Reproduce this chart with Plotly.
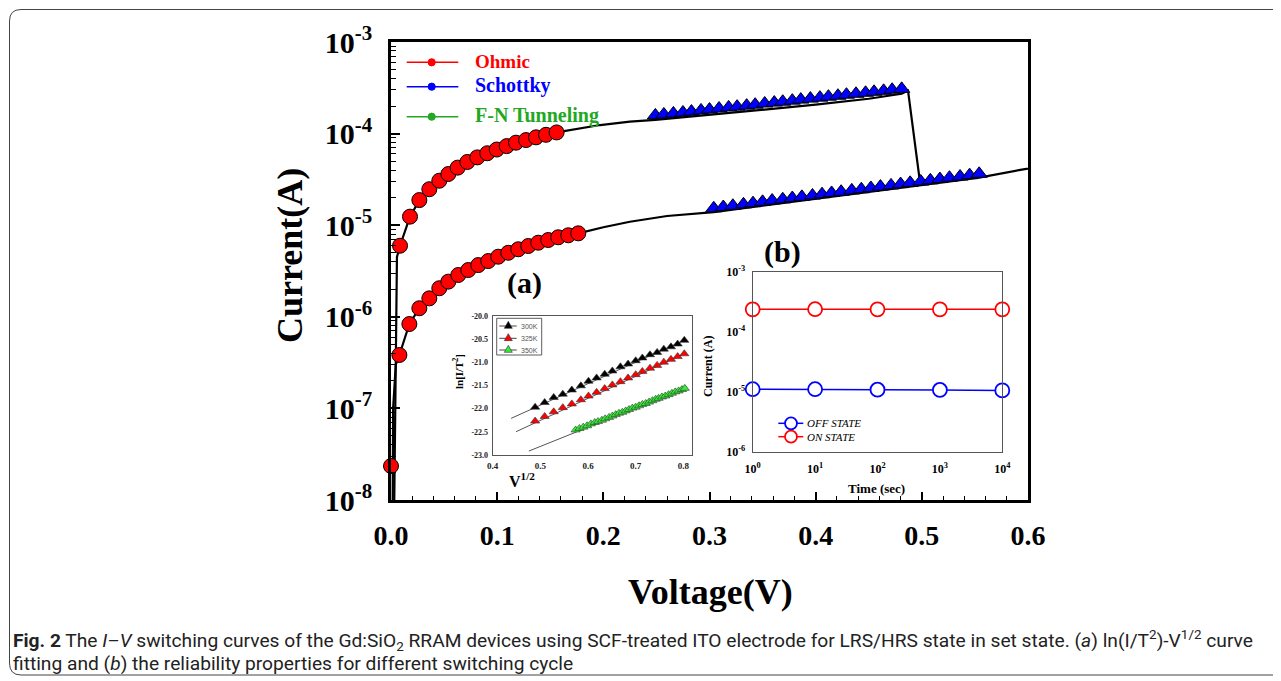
import plotly.graph_objects as go

# The page body adds an 8 px offset, so the figure is 8 px smaller and shifted.
OFF = 8
W, H = 1281 - OFF, 681 - OFF


def px(x):
    return (x - OFF) / W


def py(y):
    return 1 - (y - OFF) / H


# ---------------- main I-V data ----------------
# LRS ohmic fit points (red circles)
lrs_ohmic_v = [0.0085, 0.0179, 0.0267, 0.0361, 0.0455, 0.054, 0.0628, 0.0719, 0.0813,
               0.0907, 0.0996, 0.109, 0.1177, 0.1272, 0.1366, 0.146, 0.156]
lrs_ohmic_i = [5.97e-6, 1.24e-5, 1.88e-5, 2.47e-5, 3.06e-5, 3.62e-5, 4.25e-5, 4.9e-5, 5.5e-5,
               6.1e-5, 6.7e-5, 7.3e-5, 7.96e-5, 8.5e-5, 9.1e-5, 9.7e-5, 1.03e-4]
# HRS ohmic fit points (red circles)
hrs_ohmic_v = [0.0, 0.0079, 0.0173, 0.0267, 0.0361, 0.0455, 0.054, 0.0634, 0.0728, 0.0822,
               0.0916, 0.101, 0.1105, 0.1199, 0.1293, 0.1387, 0.1481, 0.1575, 0.167, 0.1764]
hrs_ohmic_i = [2.35e-8, 3.83e-7, 8.34e-7, 1.24e-6, 1.59e-6, 2.05e-6, 2.42e-6, 2.86e-6, 3.24e-6,
               3.67e-6, 4.06e-6, 4.53e-6, 5.0e-6, 5.46e-6, 5.93e-6, 6.44e-6, 6.89e-6, 7.38e-6,
               7.76e-6, 8.15e-6]
# LRS Schottky fit points (blue triangles)
lrs_schottky_v = [0.249, 0.257, 0.266, 0.275, 0.283, 0.292, 0.300, 0.309, 0.318, 0.326,
                  0.335, 0.343, 0.352, 0.361, 0.369, 0.378, 0.386, 0.395, 0.404, 0.412,
                  0.421, 0.429, 0.438, 0.447, 0.455, 0.464, 0.472, 0.481]
lrs_schottky_i = [1.58e-4, 1.62e-4, 1.66e-4, 1.70e-4, 1.74e-4, 1.79e-4, 1.83e-4, 1.88e-4,
                  1.93e-4, 1.97e-4, 2.02e-4, 2.07e-4, 2.13e-4, 2.18e-4, 2.23e-4, 2.29e-4,
                  2.35e-4, 2.41e-4, 2.47e-4, 2.53e-4, 2.59e-4, 2.66e-4, 2.72e-4, 2.79e-4,
                  2.86e-4, 2.93e-4, 3.01e-4, 3.08e-4]
# HRS Schottky fit points (blue triangles)
hrs_schottky_v = [0.304, 0.313, 0.322, 0.332, 0.341, 0.350, 0.359, 0.369, 0.378, 0.387,
                  0.397, 0.406, 0.415, 0.424, 0.434, 0.443, 0.452, 0.461, 0.471, 0.480,
                  0.489, 0.499, 0.508, 0.517, 0.526, 0.536, 0.545, 0.554]
hrs_schottky_i = [1.53e-5, 1.58e-5, 1.63e-5, 1.69e-5, 1.74e-5, 1.80e-5, 1.86e-5, 1.92e-5,
                  1.98e-5, 2.04e-5, 2.11e-5, 2.18e-5, 2.25e-5, 2.32e-5, 2.40e-5, 2.47e-5,
                  2.55e-5, 2.64e-5, 2.72e-5, 2.81e-5, 2.90e-5, 3.00e-5, 3.09e-5, 3.19e-5,
                  3.30e-5, 3.40e-5, 3.52e-5, 3.64e-5]
# measured sweep curves (black lines)
lrs_curve_v = [0.0028, 0.0038, 0.0048, 0.0056, 0.0085, 0.0179, 0.0267, 0.0361, 0.0455,
               0.054, 0.0628, 0.0719, 0.0813, 0.0907, 0.0996, 0.109, 0.1177, 0.1272, 0.1366,
               0.146, 0.156, 0.197, 0.225, 0.249, 0.30, 0.35, 0.40, 0.45, 0.481, 0.487, 0.498]
lrs_curve_i = [5e-9, 1e-7, 1e-6, 4.5e-6, 5.97e-6, 1.24e-5, 1.88e-5, 2.47e-5, 3.06e-5,
               3.62e-5, 4.25e-5, 4.9e-5, 5.5e-5, 6.1e-5, 6.7e-5, 7.3e-5, 7.96e-5, 8.5e-5,
               9.1e-5, 9.7e-5, 1.03e-4, 1.24e-4, 1.35e-4, 1.41e-4, 1.6e-4, 1.82e-4, 2.07e-4,
               2.4e-4, 2.72e-4, 2.95e-4, 3.1e-5]
hrs_curve_v = [0.0015, 0.002, 0.0045, 0.0079, 0.0173, 0.0267, 0.0361, 0.0455, 0.054, 0.0634,
               0.0728, 0.0822, 0.0916, 0.101, 0.1105, 0.1199, 0.1293, 0.1387, 0.1481, 0.1575,
               0.167, 0.1764, 0.20, 0.225, 0.26, 0.304, 0.35, 0.40, 0.45, 0.50, 0.554, 0.5956,
               0.62]
hrs_curve_i = [5e-9, 1e-7, 3e-7, 3.83e-7, 8.34e-7, 1.24e-6, 1.59e-6, 2.05e-6, 2.42e-6,
               2.86e-6, 3.24e-6, 3.67e-6, 4.06e-6, 4.53e-6, 5.0e-6, 5.46e-6, 5.93e-6, 6.44e-6,
               6.89e-6, 7.38e-6, 7.76e-6, 8.15e-6, 9.5e-6, 1.09e-5, 1.26e-5, 1.39e-5, 1.63e-5,
               1.94e-5, 2.3e-5, 2.74e-5, 3.3e-5, 4.07e-5, 4.5e-5]

main_xticks = [0.0, 0.1, 0.2, 0.3, 0.4, 0.5, 0.6]
main_xticktext = ["0.0", "0.1", "0.2", "0.3", "0.4", "0.5", "0.6"]
main_yticks = [1e-8, 1e-7, 1e-6, 1e-5, 1e-4, 1e-3]
main_yticktext = ["10<sup>-8</sup>", "10<sup>-7</sup>", "10<sup>-6</sup>", "10<sup>-5</sup>",
                  "10<sup>-4</sup>", "10<sup>-3</sup>"]

# ---------------- inset (a): ln(I/T^2) vs V^1/2 ----------------
a_x = [0.489, 0.509, 0.528, 0.547, 0.566, 0.585, 0.601, 0.618, 0.635, 0.651,
       0.668, 0.684, 0.700, 0.714, 0.730, 0.745, 0.759, 0.774, 0.788, 0.802]
a_300k = [-21.97, -21.87, -21.76, -21.69, -21.60, -21.51, -21.41, -21.34, -21.26, -21.19,
          -21.10, -21.04, -20.97, -20.91, -20.84, -20.79, -20.72, -20.67, -20.61, -20.53]
a_325k = [-22.27, -22.17, -22.07, -21.98, -21.90, -21.81, -21.73, -21.65, -21.57, -21.49,
          -21.42, -21.34, -21.27, -21.20, -21.13, -21.07, -21.00, -20.94, -20.88, -20.82]
a_350k_x = [0.574, 0.582, 0.590, 0.598, 0.606, 0.614, 0.621, 0.629, 0.636, 0.644, 0.651,
            0.658, 0.665, 0.672, 0.679, 0.686, 0.693, 0.700, 0.707, 0.714, 0.721, 0.728,
            0.735, 0.742, 0.748, 0.755, 0.762, 0.769, 0.776, 0.783, 0.790, 0.797, 0.803]
a_350k = [-22.46, -22.43, -22.40, -22.37, -22.33, -22.30, -22.28, -22.25, -22.22, -22.19,
          -22.16, -22.13, -22.10, -22.08, -22.05, -22.02, -21.99, -21.97, -21.94, -21.91,
          -21.89, -21.86, -21.83, -21.80, -21.78, -21.75, -21.73, -21.70, -21.67, -21.64,
          -21.62, -21.59, -21.565]
fit300_x = [0.4386, 0.802]
fit300_y = [-22.211, -20.53]
fit325_x = [0.449, 0.802]
fit325_y = [-22.498, -20.82]
fit350_x = [0.4758, 0.8035]
fit350_y = [-22.915, -21.565]
a_yticks = [-20.0, -20.5, -21.0, -21.5, -22.0, -22.5, -23.0]
a_yticktext = ["-20.0", "-20.5", "-21.0", "-21.5", "-22.0", "-22.5", "-23.0"]

# ---------------- inset (b): retention ----------------
b_time = [1, 10, 100, 1000, 10000]
b_on = [2.36e-4, 2.37e-4, 2.36e-4, 2.36e-4, 2.36e-4]
b_off = [1.10e-5, 1.10e-5, 1.08e-5, 1.07e-5, 1.05e-5]
b_xticks = [1, 10, 100, 1000, 10000]
b_xticktext = ["10<sup>0</sup>", "10<sup>1</sup>", "10<sup>2</sup>", "10<sup>3</sup>",
               "10<sup>4</sup>"]
b_yticks = [1e-6, 1e-5, 1e-4, 1e-3]
b_yticktext = ["10<sup>-6</sup>", "10<sup>-5</sup>", "10<sup>-4</sup>", "10<sup>-3</sup>"]

RED = "#ff0000"
BLUE = "#0000ff"
GREEN = "#22a822"
SERIF = "Liberation Serif, Times New Roman, serif"

fig = go.Figure()

# main curves
for xs, ys in [(lrs_curve_v, lrs_curve_i), (hrs_curve_v, hrs_curve_i)]:
    fig.add_trace(go.Scatter(x=xs, y=ys, mode="lines", line=dict(color="black", width=2.2),
                             xaxis="x", yaxis="y", hoverinfo="skip"))
for xs, ys in [(lrs_schottky_v, lrs_schottky_i), (hrs_schottky_v, hrs_schottky_i)]:
    fig.add_trace(go.Scatter(x=xs, y=ys, mode="markers", xaxis="x", yaxis="y",
                             marker=dict(symbol="triangle-up", size=14, color=BLUE,
                                         line=dict(color="black", width=1))))
for xs, ys in [(hrs_ohmic_v, hrs_ohmic_i), (lrs_ohmic_v, lrs_ohmic_i)]:
    fig.add_trace(go.Scatter(x=xs, y=ys, mode="markers", xaxis="x", yaxis="y", cliponaxis=False,
                             marker=dict(symbol="circle", size=15, color=RED,
                                         line=dict(color="black", width=1))))

# inset a
for xs, ys in [(fit300_x, fit300_y), (fit325_x, fit325_y), (fit350_x, fit350_y)]:
    fig.add_trace(go.Scatter(x=xs, y=ys, mode="lines", line=dict(color="#555555", width=1),
                             xaxis="x2", yaxis="y2"))
for xs, ys, c in [(a_x, a_300k, "black"), (a_x, a_325k, RED), (a_350k_x, a_350k, "#33ee33")]:
    fig.add_trace(go.Scatter(x=xs, y=ys, mode="markers", xaxis="x2", yaxis="y2",
                             marker=dict(symbol="triangle-up", size=8, color=c,
                                         line=dict(color="#333333", width=0.6))))

# inset b
for ys, c in [(b_on, RED), (b_off, BLUE)]:
    fig.add_trace(go.Scatter(x=b_time, y=ys, mode="lines+markers", xaxis="x3", yaxis="y3",
                             line=dict(color=c, width=1.5), cliponaxis=False,
                             marker=dict(symbol="circle", size=14, color="white",
                                         line=dict(color=c, width=1.8))))

axis_common = dict(showgrid=False, zeroline=False, showline=True, mirror=True,
                   automargin=False)

main_minor = []
for e in range(-8, -3):
    for m in range(2, 10):
        main_minor.append(m * 10.0 ** e)

fig.update_layout(
    width=W, height=H, margin=dict(l=0, r=0, t=0, b=0, autoexpand=False),
    paper_bgcolor="white", plot_bgcolor="white", showlegend=False,
    xaxis=dict(**axis_common, domain=[px(391), px(1028)], range=[0, 0.6],
               linecolor="black", linewidth=2.5, ticks="inside", ticklen=8, tickwidth=2,
               tickcolor="black", tickmode="array", tickvals=main_xticks,
               ticktext=main_xticktext, ticklabelstandoff=9,
               minor=dict(ticks="inside", ticklen=4, tickwidth=1, dtick=0.02, tick0=0,
                          tickcolor="black"),
               tickfont=dict(family=SERIF, size=28, color="black", weight="bold"),
               anchor="y"),
    yaxis=dict(**axis_common, domain=[py(500), py(42)], type="log", range=[-8, -3],
               linecolor="black", linewidth=2.5, ticks="inside", ticklen=9, tickwidth=2,
               tickcolor="black", tickmode="array", tickvals=main_yticks,
               ticktext=main_yticktext, ticklabelstandoff=10,
               minor=dict(ticks="inside", ticklen=5, tickwidth=1, tickmode="array",
                          tickvals=main_minor, tickcolor="black"),
               tickfont=dict(family=SERIF, size=30, color="black", weight="bold"),
               anchor="x"),
    xaxis2=dict(**axis_common, domain=[px(492.7), px(691.7)], range=[0.4, 0.8175],
                linecolor="#555555", linewidth=1, ticks="", dtick=0.1, tick0=0.4,
                tickformat=".1f", ticklabelstandoff=2,
                tickfont=dict(family=SERIF, size=9, color="#222222", weight="bold"),
                anchor="y2"),
    yaxis2=dict(**axis_common, domain=[py(455), py(315.7)], range=[-23, -20],
                linecolor="#555555", linewidth=1, ticks="", tickmode="array",
                tickvals=a_yticks, ticktext=a_yticktext, ticklabelstandoff=2,
                tickfont=dict(family=SERIF, size=8, color="#222222", weight="bold"),
                anchor="x2"),
    xaxis3=dict(**axis_common, domain=[px(752.7), px(1002.3)], type="log", range=[0, 4],
                linecolor="#555555", linewidth=1.2, ticks="", tickmode="array",
                tickvals=b_xticks, ticktext=b_xticktext, ticklabelstandoff=6,
                tickfont=dict(family=SERIF, size=12, color="black", weight="bold"),
                anchor="y3"),
    yaxis3=dict(**axis_common, domain=[py(451.7), py(271.7)], type="log", range=[-6, -3],
                linecolor="#555555", linewidth=1.2, ticks="", tickmode="array",
                tickvals=b_yticks, ticktext=b_yticktext, ticklabelstandoff=4,
                tickfont=dict(family=SERIF, size=12, color="black", weight="bold"),
                anchor="x3"),
)

ann = []


def add_text(x, y, text, size, color="black", family=SERIF, bold=True, angle=0,
             xanchor="center", italic=False):
    ann.append(dict(x=px(x), y=py(y), xref="paper", yref="paper", text=text,
                    showarrow=False, textangle=angle, xanchor=xanchor, yanchor="middle",
                    font=dict(family=family, size=size, color=color,
                              weight="bold" if bold else "normal",
                              style="italic" if italic else "normal")))


add_text(290, 256, "Current(A)", 36, angle=-90)
add_text(710, 592, "Voltage(V)", 36)
add_text(524, 283, "(a)", 30)
add_text(782.5, 252, "(b)", 30)
# main legend text
add_text(472.7, 61.7, "Ohmic", 19, color=RED, xanchor="left")
add_text(472.7, 85.5, "Schottky", 20, color=BLUE, xanchor="left")
add_text(472.7, 116, "F-N Tunneling", 20, color=GREEN, xanchor="left")
# inset a titles
add_text(458, 372, "ln[I/T<sup>2</sup>]", 11, angle=-90)
add_text(522, 480, "V<sup>1/2</sup>", 16)
# inset a legend text
for yy, t in [(326, "300K"), (338.3, "325K"), (350, "350K")]:
    add_text(519, yy, t, 7, color="#555555", family="Liberation Sans, Arial", bold=False,
             xanchor="left")
# inset b titles
add_text(708, 367, "Current (A)", 12, angle=-90)
add_text(876, 488, "Time (sec)", 13)
add_text(805, 423.3, "OFF STATE", 11, bold=False, italic=True, xanchor="left")
add_text(805, 436.7, "ON STATE", 11, bold=False, italic=True, xanchor="left")
# caption
CAP = "Roboto, sans-serif"
add_text(11, 640, "<b>Fig. 2</b> The <i>I–V</i> switching curves of the Gd:SiO<sub>2</sub> RRAM "
         "devices using SCF-treated ITO electrode for LRS/HRS state in set state. "
         "(<i>a</i>) ln(I/T<sup>2</sup>)-V<sup>1/2</sup> curve", 19.2, color="#222222",
         family=CAP, bold=False, xanchor="left")
add_text(11, 663, "fitting and (<i>b</i>) the reliability properties for different switching cycle",
         19.2, color="#222222", family=CAP, bold=False, xanchor="left")

fig.update_layout(annotations=ann)

shapes = []


def line_shape(x0, y0, x1, y1, color, width):
    shapes.append(dict(type="line", xref="paper", yref="paper", x0=px(x0), y0=py(y0),
                       x1=px(x1), y1=py(y1), line=dict(color=color, width=width)))


def circle_shape(cx, cy, r, fill, color, width):
    shapes.append(dict(type="circle", xref="paper", yref="paper", x0=px(cx - r), y0=py(cy + r),
                       x1=px(cx + r), y1=py(cy - r), fillcolor=fill,
                       line=dict(color=color, width=width)))


def tri_shape(cx, cy, hw, h, fill):
    path = (f"M {px(cx - hw)},{py(cy + h / 3)} L {px(cx + hw)},{py(cy + h / 3)} "
            f"L {px(cx)},{py(cy - 2 * h / 3)} Z")
    shapes.append(dict(type="path", xref="paper", yref="paper", path=path, fillcolor=fill,
                       line=dict(color="#333333", width=0.6)))


# main legend glyphs
for yy, c in [(62.3, RED), (86.7, BLUE), (116.7, GREEN)]:
    line_shape(406.7, yy, 458.3, yy, c, 1.5)
    circle_shape(431.7, yy, 3.6, c, c, 1)

# inset a legend box and glyphs
shapes.append(dict(type="rect", xref="paper", yref="paper", x0=px(496.7), y0=py(355),
                   x1=px(541.7), y1=py(318.3), line=dict(color="#333333", width=0.8),
                   fillcolor="white"))
for yy, c in [(326, "black"), (338.3, RED), (350, "#33ee33")]:
    line_shape(499.3, yy, 516.7, yy, "#444444", 1)
    tri_shape(508.3, yy, 4, 7, c)

# inset b legend glyphs
for yy, c in [(423.3, BLUE), (436.7, RED)]:
    line_shape(778.3, yy, 803.3, yy, c, 1.5)
    circle_shape(791, yy, 6, "white", c, 1.8)

# outer rounded border
border = (f"M {px(1281)},{py(9.5)} L {px(21)},{py(9.5)} Q {px(9.5)},{py(9.5)} {px(9.5)},{py(21)} "
          f"L {px(9.5)},{py(663)} Q {px(9.5)},{py(675)} {px(21)},{py(675)} L {px(1281)},{py(675)}")
shapes.append(dict(type="path", xref="paper", yref="paper", path=border,
                   line=dict(color="#444444", width=1)))

fig.update_layout(shapes=shapes)

fig.write_html("out.html")
